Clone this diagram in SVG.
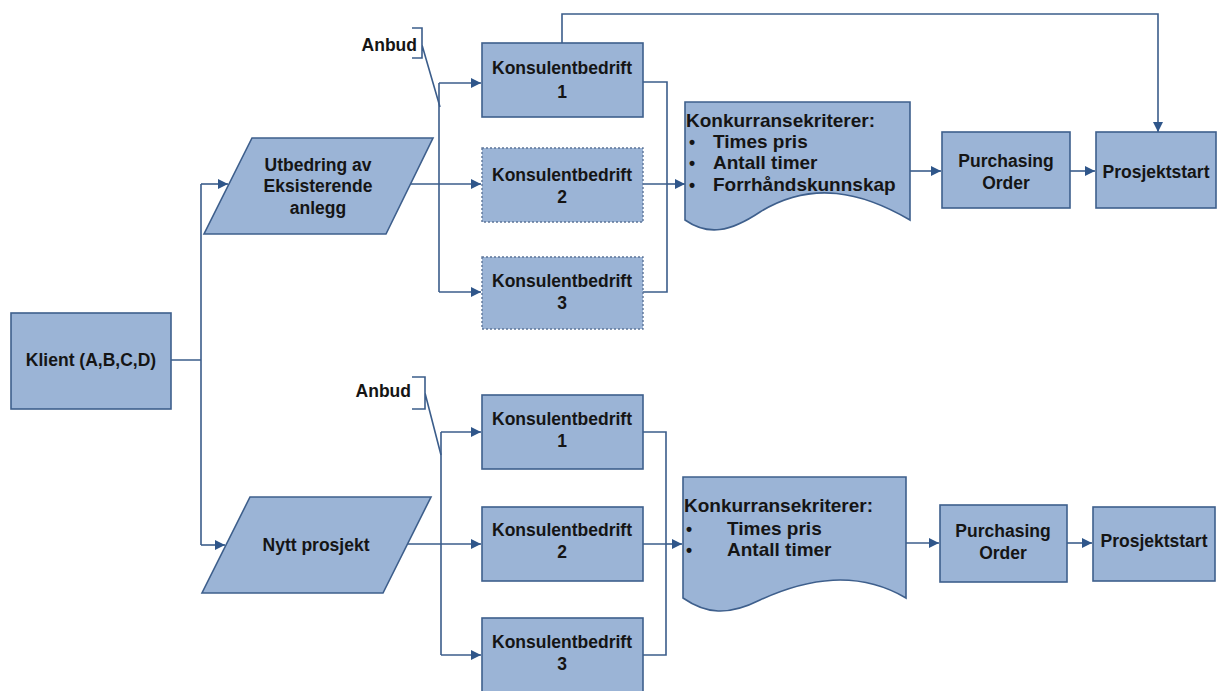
<svg xmlns="http://www.w3.org/2000/svg" width="1217" height="691" viewBox="0 0 1217 691">
  <style>
    .box { fill: #9bb4d6; stroke: #3e5f8c; stroke-width: 1.6; }
    .dash { fill: #9bb4d6; stroke: #5d7599; stroke-width: 1.4; stroke-dasharray: 2 2; }
    .lbl { font-family: "Liberation Sans", Arial, sans-serif; font-weight: bold; font-size: 17.5px; fill: #151515; }
    .doc { font-size: 19px; }
    .mid { text-anchor: middle; }
    .wire { fill: none; stroke: #3b5d8b; stroke-width: 1.6; }
    .arr { marker-end: url(#head); }
  </style>
  <defs>
    <marker id="head" viewBox="0 0 10 10" refX="10" refY="5" markerWidth="12" markerHeight="10" markerUnits="userSpaceOnUse" orient="auto">
      <path d="M0,0 L10,5 L0,10 z" fill="#2f568a"/>
    </marker>
  </defs>
  <rect width="1217" height="691" fill="#ffffff"/>

  <!-- connectors -->
  <g id="connectors">
    <!-- client split -->
    <path class="wire" d="M171,360 H201 M201,184 V545"/>
    <path class="wire arr" d="M201,184 H228"/>
    <path class="wire arr" d="M201,545 H225"/>

    <!-- upper branch -->
    <path class="wire" d="M410,184 H439 M439,83 V292"/>
    <path class="wire arr" d="M439,184 H481"/>
    <path class="wire arr" d="M439,83 H481"/>
    <path class="wire arr" d="M439,292 H481"/>
    <path class="wire" d="M643,82 H667 V292 H643 M643,184 H667"/>
    <path class="wire arr" d="M667,184 H685"/>
    <path class="wire arr" d="M910,171 H941"/>
    <path class="wire arr" d="M1070,171 H1095"/>
    <path class="wire arr" d="M562,43 V14 H1158 V132"/>

    <!-- lower branch -->
    <path class="wire" d="M407,544 H441 M441,432 V655"/>
    <path class="wire arr" d="M441,544 H481"/>
    <path class="wire arr" d="M441,432 H481"/>
    <path class="wire arr" d="M441,655 H481"/>
    <path class="wire" d="M643,432 H666 V655 H643 M643,544 H666"/>
    <path class="wire arr" d="M666,544 H682"/>
    <path class="wire arr" d="M906,543 H939"/>
    <path class="wire arr" d="M1067,543 H1092"/>

    <!-- tender callouts -->
    <path class="wire" d="M412,28 H422 V58 H412 M422,45 L440,107"/>
    <path class="wire" d="M412,377 H425 V409 H412 M425,393 L441,455"/>
  </g>

  <g id="klient">
    <rect class="box" x="11" y="313" width="160" height="96"/>
    <text class="lbl mid" x="91" y="366">Klient (A,B,C,D)</text>
  </g>

  <g id="utbedring">
    <polygon class="box" points="252,138 433,138 386,234 204,234"/>
    <text class="lbl mid" x="318" y="171">Utbedring av</text>
    <text class="lbl mid" x="318" y="192">Eksisterende</text>
    <text class="lbl mid" x="318" y="214">anlegg</text>
  </g>

  <g id="anbud-1">
    <text class="lbl" x="417" y="51" text-anchor="end">Anbud</text>
  </g>

  <g id="konsulent-1a">
    <rect class="box" x="482" y="43" width="161" height="74"/>
    <text class="lbl mid" x="562" y="74">Konsulentbedrift</text>
    <text class="lbl mid" x="562" y="98">1</text>
  </g>
  <g id="konsulent-2a">
    <rect class="dash" x="482" y="148" width="161" height="74"/>
    <text class="lbl mid" x="562" y="181">Konsulentbedrift</text>
    <text class="lbl mid" x="562" y="203">2</text>
  </g>
  <g id="konsulent-3a">
    <rect class="dash" x="482" y="257" width="161" height="72"/>
    <text class="lbl mid" x="562" y="287">Konsulentbedrift</text>
    <text class="lbl mid" x="562" y="309">3</text>
  </g>

  <g id="kriterier-a">
    <path class="box" d="M685,102 H910 V220 C862,192 812,180 760,212 C730,232 708,236 685,220 Z"/>
    <text class="lbl doc" x="686" y="127">Konkurransekriterer:</text>
    <text class="lbl" x="689" y="148">•</text>
    <text class="lbl doc" x="713" y="148">Times pris</text>
    <text class="lbl" x="689" y="169">•</text>
    <text class="lbl doc" x="713" y="169">Antall timer</text>
    <text class="lbl" x="689" y="191">•</text>
    <text class="lbl doc" x="713" y="191">Forrhåndskunnskap</text>
  </g>

  <g id="purchasing-a">
    <rect class="box" x="942" y="132" width="128" height="76"/>
    <text class="lbl mid" x="1006" y="167">Purchasing</text>
    <text class="lbl mid" x="1006" y="189">Order</text>
  </g>

  <g id="prosjektstart-a">
    <rect class="box" x="1096" y="132" width="120" height="76"/>
    <text class="lbl mid" x="1156" y="178">Prosjektstart</text>
  </g>

  <g id="nytt-prosjekt">
    <polygon class="box" points="250,497 431,497 383,593 202,593"/>
    <text class="lbl mid" x="316" y="551">Nytt prosjekt</text>
  </g>

  <g id="anbud-2">
    <text class="lbl" x="411" y="397" text-anchor="end">Anbud</text>
  </g>

  <g id="konsulent-1b">
    <rect class="box" x="482" y="395" width="161" height="74"/>
    <text class="lbl mid" x="562" y="425">Konsulentbedrift</text>
    <text class="lbl mid" x="562" y="447">1</text>
  </g>
  <g id="konsulent-2b">
    <rect class="box" x="482" y="507" width="161" height="74"/>
    <text class="lbl mid" x="562" y="536">Konsulentbedrift</text>
    <text class="lbl mid" x="562" y="558">2</text>
  </g>
  <g id="konsulent-3b">
    <rect class="box" x="482" y="618" width="161" height="80"/>
    <text class="lbl mid" x="562" y="648">Konsulentbedrift</text>
    <text class="lbl mid" x="562" y="670">3</text>
  </g>

  <g id="kriterier-b">
    <path class="box" d="M683,477 H906 V598 C858,570 808,578 760,600 C728,616 706,614 683,598 Z"/>
    <text class="lbl doc" x="684" y="512">Konkurransekriterer:</text>
    <text class="lbl" x="686" y="535">•</text>
    <text class="lbl doc" x="727" y="535">Times pris</text>
    <text class="lbl" x="686" y="556">•</text>
    <text class="lbl doc" x="727" y="556">Antall timer</text>
  </g>

  <g id="purchasing-b">
    <rect class="box" x="940" y="505" width="127" height="77"/>
    <text class="lbl mid" x="1003" y="537">Purchasing</text>
    <text class="lbl mid" x="1003" y="559">Order</text>
  </g>

  <g id="prosjektstart-b">
    <rect class="box" x="1093" y="507" width="122" height="74"/>
    <text class="lbl mid" x="1154" y="547">Prosjektstart</text>
  </g>
</svg>
